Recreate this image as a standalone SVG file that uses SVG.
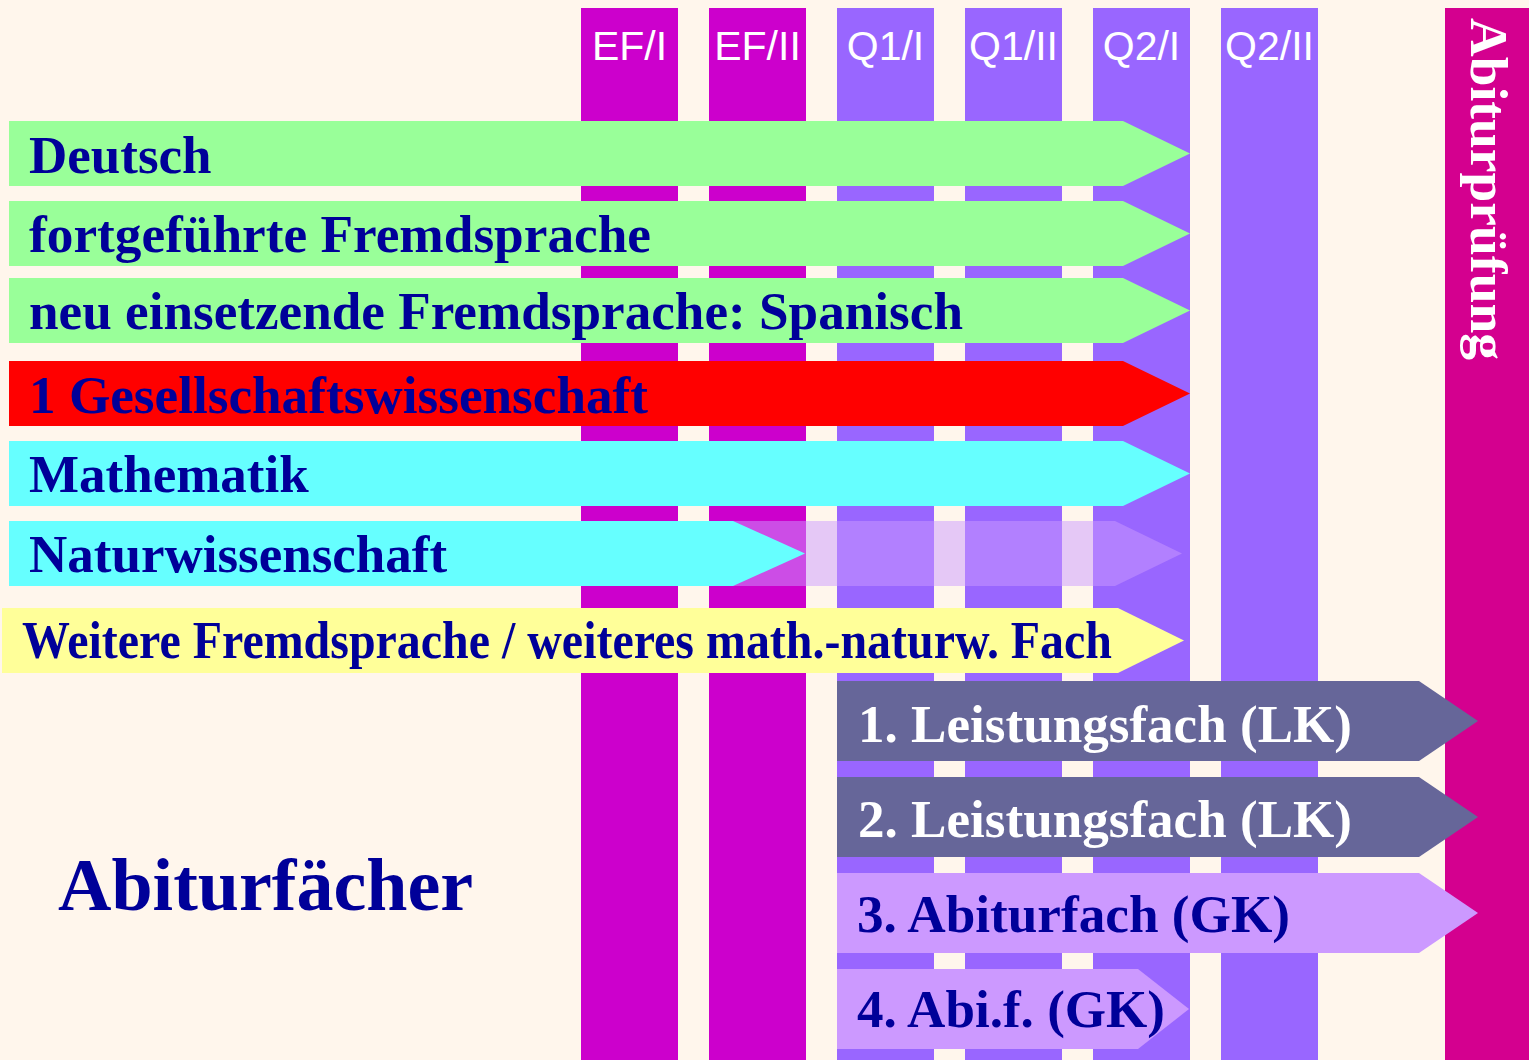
<svg xmlns="http://www.w3.org/2000/svg" width="1529" height="1060" viewBox="0 0 1529 1060">
<style>
.ef{fill:#CC00CC}
.q{fill:#9966FF}
.hd{font-family:"Liberation Sans",Arial,sans-serif;font-size:41px;fill:#FFFFFF;text-anchor:middle}
.lb{font-family:"Liberation Serif","Times New Roman",serif;font-weight:bold;font-size:53px;fill:#000099}
.lk{font-family:"Liberation Serif","Times New Roman",serif;font-weight:bold;font-size:52px}
.green{fill:#99FF99}
.cyan{fill:#66FFFF}
</style>
<rect x="0" y="0" width="1529" height="1060" fill="#FFF6EC"/>
<g id="columns">
  <g id="col-ef1"><rect class="ef" x="581" y="8" width="97" height="1052"/><text class="hd" x="629.5" y="60">EF/I</text></g>
  <g id="col-ef2"><rect class="ef" x="709" y="8" width="97" height="1052"/><text class="hd" x="757.5" y="60">EF/II</text></g>
  <g id="col-q11"><rect class="q" x="837" y="8" width="97" height="1052"/><text class="hd" x="885.5" y="60">Q1/I</text></g>
  <g id="col-q12"><rect class="q" x="965" y="8" width="97" height="1052"/><text class="hd" x="1013.5" y="60">Q1/II</text></g>
  <g id="col-q21"><rect class="q" x="1093" y="8" width="97" height="1052"/><text class="hd" x="1141.5" y="60">Q2/I</text></g>
  <g id="col-q22"><rect class="q" x="1221" y="8" width="97" height="1052"/><text class="hd" x="1269.5" y="60">Q2/II</text></g>
  <g id="col-abi"><rect x="1445" y="8" width="84" height="1052" fill="#D4008F"/>
    <text transform="translate(1471,18) rotate(90)" font-family="'Liberation Serif','Times New Roman',serif" font-weight="bold" font-size="53.5" fill="#FFFFFF">Abiturprüfung</text></g>
</g>
<g id="deutsch"><polygon class="green" points="9,121 1123,121 1190,153.5 1123,186 9,186"/><text class="lb" x="29" y="173">Deutsch</text></g>
<g id="fortgefuehrte"><polygon class="green" points="9,201 1123,201 1190,233.5 1123,266 9,266"/><text class="lb" x="29" y="252" textLength="622" lengthAdjust="spacingAndGlyphs">fortgeführte Fremdsprache</text></g>
<g id="neu"><polygon class="green" points="9,278 1123,278 1190,310.5 1123,343 9,343"/><text class="lb" x="29" y="329" textLength="934" lengthAdjust="spacingAndGlyphs">neu einsetzende Fremdsprache: Spanisch</text></g>
<g id="gesellschaft"><polygon fill="#FF0000" points="9,361 1123,361 1190,393.5 1123,426 9,426"/><text class="lb" x="29" y="413" textLength="619" lengthAdjust="spacingAndGlyphs">1 Gesellschaftswissenschaft</text></g>
<g id="mathematik"><polygon class="cyan" points="9,441 1123,441 1190,473.5 1123,506 9,506"/><text class="lb" x="29" y="492">Mathematik</text></g>
<g id="naturwissenschaft">
  <polygon fill="#CC99FF" fill-opacity="0.5" points="733,521 1115,521 1182,553.5 1115,586 733,586"/>
  <polygon class="cyan" points="9,521 733,521 805,553.5 733,586 9,586"/>
  <text class="lb" x="29" y="572">Naturwissenschaft</text>
</g>
<g id="weitere"><polygon fill="#FFFF99" points="2,608 1118,608 1184,640.5 1118,673 2,673"/><text class="lb" x="22" y="658" font-size="47.5" textLength="1090" lengthAdjust="spacingAndGlyphs">Weitere Fremdsprache / weiteres math.-naturw. Fach</text></g>
<g id="lk1"><polygon fill="#666699" points="837,681 1419,681 1478,721 1419,761 837,761"/><text class="lk" x="858" y="742" fill="#FFFFFF" textLength="494" lengthAdjust="spacingAndGlyphs">1. Leistungsfach (LK)</text></g>
<g id="lk2"><polygon fill="#666699" points="837,777 1419,777 1478,817 1419,857 837,857"/><text class="lk" x="858" y="837" fill="#FFFFFF" textLength="494" lengthAdjust="spacingAndGlyphs">2. Leistungsfach (LK)</text></g>
<g id="gk3"><polygon fill="#CC99FF" points="837,873 1419,873 1478,913 1419,953 837,953"/><text class="lk" x="857" y="932" fill="#000099" textLength="433" lengthAdjust="spacingAndGlyphs">3. Abiturfach (GK)</text></g>
<g id="gk4"><polygon fill="#CC99FF" points="837,969 1138,969 1189,1009 1138,1049 837,1049"/><text class="lk" x="857" y="1027" fill="#000099" textLength="308" lengthAdjust="spacingAndGlyphs">4. Abi.f. (GK)</text></g>
<g id="title"><text x="58" y="910" font-family="'Liberation Serif','Times New Roman',serif" font-weight="bold" font-size="74" fill="#000099">Abiturfächer</text></g>
</svg>
